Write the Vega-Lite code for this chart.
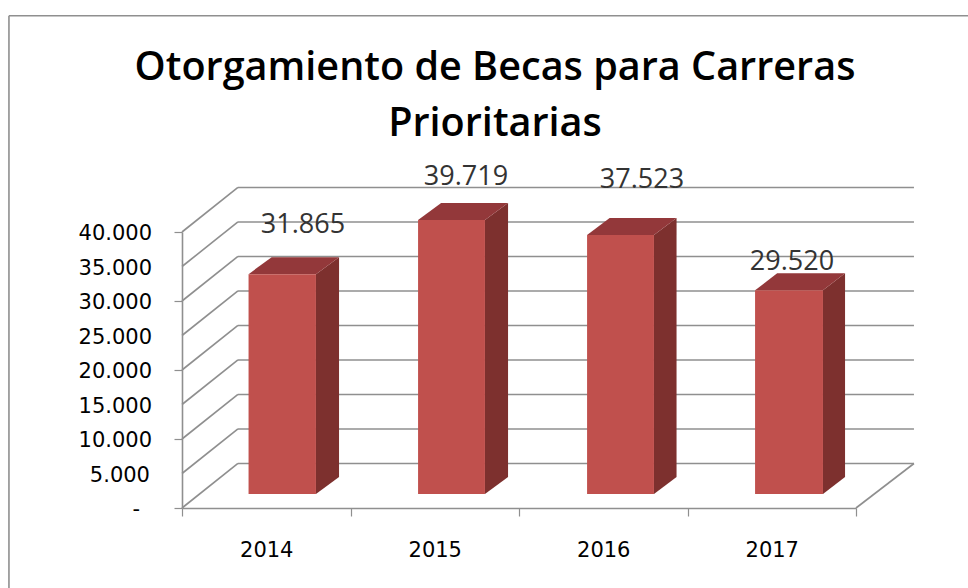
{"$schema":"https://vega.github.io/schema/vega-lite/v6.json","width":674,"height":276,"autosize":"none","padding":{"left":182,"top":232,"right":112,"bottom":80},"background":"#ffffff","view":{"stroke":null},"title":{"text":["Otorgamiento de Becas para Carreras","Prioritarias"],"font":"Open Sans","fontSize":39.6,"fontWeight":600,"color":"#000000","anchor":"middle","offset":-130,"dx":-24,"lineHeight":56,"frame":"group"},"datasets":{"ylabels":[{"x":-0.178,"y":40000,"t":"40.000"},{"x":-0.178,"y":35000,"t":"35.000"},{"x":-0.178,"y":30000,"t":"30.000"},{"x":-0.178,"y":25000,"t":"25.000"},{"x":-0.178,"y":20000,"t":"20.000"},{"x":-0.178,"y":15000,"t":"15.000"},{"x":-0.178,"y":10000,"t":"10.000"},{"x":-0.19,"y":5000,"t":"5.000"},{"x":-0.249,"y":0,"t":"-"}],"bars":[{"anio":"2014","valor":31865,"etiqueta":"31.865","xl":0.395,"xr":0.795,"top":33894,"base":2029,"lx":0.718,"ly":41000},{"anio":"2015","valor":39719,"etiqueta":"39.719","xl":1.401,"xr":1.798,"top":41748,"base":2029,"lx":1.685,"ly":48000},{"anio":"2016","valor":37523,"etiqueta":"37.523","xl":2.404,"xr":2.801,"top":39552,"base":2029,"lx":2.73,"ly":47540},{"anio":"2017","valor":29520,"etiqueta":"29.520","xl":3.401,"xr":3.804,"top":31549,"base":2029,"lx":3.62,"ly":35600}],"grid":[{"x":-1.027,"x2":4.665,"y":71350,"y2":71350},{"x":-1.027,"x2":-1.027,"y":71350,"y2":-11594},{"x":0.332,"x2":4.344,"y":6450,"y2":6450},{"x":0.332,"x2":4.344,"y":11450,"y2":11450},{"x":0.332,"x2":4.344,"y":16450,"y2":16450},{"x":0.332,"x2":4.344,"y":21450,"y2":21450},{"x":0.332,"x2":4.344,"y":26450,"y2":26450},{"x":0.332,"x2":4.344,"y":31450,"y2":31450},{"x":0.332,"x2":4.344,"y":36450,"y2":36450},{"x":0.332,"x2":4.344,"y":41450,"y2":41450},{"x":0.332,"x2":4.344,"y":46450,"y2":46450},{"x":0,"x2":0.332,"y":0,"y2":6450},{"x":0,"x2":0.332,"y":5000,"y2":11450},{"x":0,"x2":0.332,"y":10000,"y2":16450},{"x":0,"x2":0.332,"y":15000,"y2":21450},{"x":0,"x2":0.332,"y":20000,"y2":26450},{"x":0,"x2":0.332,"y":25000,"y2":31450},{"x":0,"x2":0.332,"y":30000,"y2":36450},{"x":0,"x2":0.332,"y":35000,"y2":41450},{"x":0,"x2":0.332,"y":40000,"y2":46450},{"x":4,"x2":4.344,"y":0,"y2":6450}],"sides":[{"anio":"2014","x":0.795,"y":33894,"y2":2029},{"anio":"2014","x":0.932,"y":36358,"y2":4493},{"anio":"2015","x":1.798,"y":41748,"y2":2029},{"anio":"2015","x":1.935,"y":44212,"y2":4493},{"anio":"2016","x":2.801,"y":39552,"y2":2029},{"anio":"2016","x":2.935,"y":42016,"y2":4493},{"anio":"2017","x":3.804,"y":31549,"y2":2029},{"anio":"2017","x":3.935,"y":34013,"y2":4493}],"tops":[{"anio":"2014","y":33894,"x":0.395,"x2":0.795},{"anio":"2014","y":36358,"x":0.532,"x2":0.932},{"anio":"2015","y":41748,"x":1.401,"x2":1.798},{"anio":"2015","y":44212,"x":1.538,"x2":1.935},{"anio":"2016","y":39552,"x":2.404,"x2":2.801},{"anio":"2016","y":42016,"x":2.538,"x2":2.935},{"anio":"2017","y":31549,"x":3.401,"x2":3.804},{"anio":"2017","y":34013,"x":3.532,"x2":3.935}]},"layer":[{"data":{"name":"grid"},"mark":{"type":"rule","color":"#8f8f8f","strokeWidth":1.6,"clip":false},"encoding":{"x":{"field":"x","type":"quantitative","scale":{"domain":[0,4],"nice":false,"zero":false},"axis":{"values":[0,0.5,1,1.5,2,2.5,3,3.5,4],"title":null,"grid":false,"domainColor":"#8f8f8f","domainWidth":1.6,"tickColor":"#8f8f8f","tickWidth":1.2,"tickSize":8,"tickOpacity":{"condition":{"test":"datum.value % 1 === 0","value":1},"value":0},"labelExpr":"datum.value === 0.5 ? '2014' : datum.value === 1.5 ? '2015' : datum.value === 2.5 ? '2016' : datum.value === 3.5 ? '2017' : ''","labelFont":"DejaVu Sans","labelFontSize":21,"labelColor":"#000000","labelPadding":23,"labelAngle":0,"labelFlush":false,"labelOverlap":false}},"x2":{"field":"x2"},"y":{"field":"y","type":"quantitative","scale":{"domain":[0,40000],"nice":false,"zero":false},"axis":{"values":[0,5000,10000,15000,20000,25000,30000,35000,40000],"title":null,"grid":false,"domainColor":"#8f8f8f","domainWidth":1.6,"tickColor":"#8f8f8f","tickWidth":1.2,"tickSize":8,"labels":false}},"y2":{"field":"y2"}}},{"data":{"name":"ylabels"},"mark":{"type":"text","font":"DejaVu Sans","fontSize":21,"color":"#000000","align":"right","dy":2,"clip":false},"encoding":{"x":{"field":"x","type":"quantitative"},"y":{"field":"y","type":"quantitative"},"text":{"field":"t"}}},{"data":{"name":"sides"},"mark":{"type":"area","orient":"vertical","color":"#7d302e","clip":false},"encoding":{"x":{"field":"x","type":"quantitative"},"y":{"field":"y","type":"quantitative"},"y2":{"field":"y2"},"detail":{"field":"anio"}}},{"data":{"name":"tops"},"mark":{"type":"area","orient":"horizontal","color":"#93383a","clip":false},"encoding":{"y":{"field":"y","type":"quantitative"},"x":{"field":"x","type":"quantitative"},"x2":{"field":"x2"},"detail":{"field":"anio"}}},{"data":{"name":"bars"},"mark":{"type":"rect","color":"#c0504d","clip":false},"encoding":{"x":{"field":"xl","type":"quantitative"},"x2":{"field":"xr"},"y":{"field":"top","type":"quantitative"},"y2":{"field":"base"}}},{"data":{"name":"bars"},"mark":{"type":"text","font":"Open Sans","fontSize":27,"color":"#333333","clip":false},"encoding":{"x":{"field":"lx","type":"quantitative"},"y":{"field":"ly","type":"quantitative"},"text":{"field":"etiqueta"}}}]}
